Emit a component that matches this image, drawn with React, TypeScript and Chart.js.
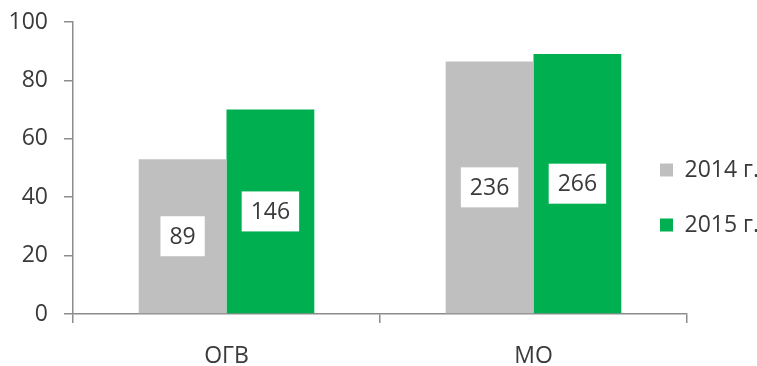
import React, { useEffect, useRef } from "react";
import { Chart, registerables } from "chart.js";

Chart.register(...registerables);

const categories = ["ОГВ", "МО"];
const seriesNames = ["2014 г.", "2015 г."];
const values2014 = [53, 86.5];
const values2015 = [70, 89];
const labels2014 = ["89", "236"];
const labels2015 = ["146", "266"];
const yTicks = [0, 20, 40, 60, 80, 100];

const FONT = "'Open Sans', 'Noto Sans', sans-serif";
const FS = 23;
const TEXT = "#3a3a3a";
const AXIS = "#8c8c8c";

const barLabelPlugin = {
  id: "barLabels",
  afterDatasetsDraw(chart: any) {
    const ctx = chart.ctx;
    const all = [labels2014, labels2015];
    ctx.save();
    ctx.font = `${FS}px ${FONT}`;
    ctx.textAlign = "center";
    ctx.textBaseline = "middle";
    chart.data.datasets.forEach((_: any, di: number) => {
      const meta = chart.getDatasetMeta(di);
      meta.data.forEach((el: any, i: number) => {
        const { x, y, base } = el.getProps(["x", "y", "base"], true);
        const cy = (y + base) / 2;
        const txt = all[di][i];
        const w = ctx.measureText(txt).width + 18;
        const h = 40;
        ctx.fillStyle = "#ffffff";
        ctx.fillRect(x - w / 2, cy - h / 2, w, h);
        ctx.fillStyle = TEXT;
        ctx.fillText(txt, x, cy + 1);
      });
    });
    ctx.restore();
  },
};

const LEG_PAD = 32;
const legendPlacer = {
  id: "legendPlacer",
  afterLayout(chart: any) {
    const lg = chart.legend;
    if (!lg) return;
    const w = lg.width;
    lg.left = 660 - LEG_PAD;
    lg.right = lg.left + w;
    lg.top = 170 - FS / 2 - LEG_PAD;
    lg.bottom = lg.top + 300;
    lg.height = 300;
  },
};

export default function App() {
  const ref = useRef<HTMLCanvasElement | null>(null);

  useEffect(() => {
    if (!ref.current) return;
    const chart = new Chart(ref.current, {
      type: "bar",
      data: {
        labels: categories,
        datasets: [
          {
            label: seriesNames[0],
            data: values2014,
            backgroundColor: "#bfbfbf",
            borderWidth: 0,
            categoryPercentage: 0.572,
            barPercentage: 1,
          },
          {
            label: seriesNames[1],
            data: values2015,
            backgroundColor: "#00b050",
            borderWidth: 0,
            categoryPercentage: 0.572,
            barPercentage: 1,
          },
        ],
      },
      options: {
        responsive: false,
        animation: false,
        layout: { padding: { left: 9, right: 70, top: 22, bottom: 0 } },
        plugins: {
          tooltip: { enabled: false },
          legend: {
            display: true,
            position: "chartArea" as any,
            align: "start",
            labels: {
              boxWidth: 13,
              boxHeight: 13,
              padding: LEG_PAD,
              color: TEXT,
              textAlign: "left",
              font: { family: FONT, size: FS },
            },
          },
        },
        scales: {
          x: {
            offset: true,
            afterFit: (scale: any) => {
              scale.height = 52;
            },
            grid: {
              offset: true,
              drawOnChartArea: false,
              drawTicks: true,
              tickLength: 9,
              color: AXIS,
              lineWidth: 1.5,
            },
            border: { display: true, color: AXIS, width: 1.5 },
            ticks: {
              color: TEXT,
              padding: 21,
              font: { family: FONT, size: FS, lineHeight: 1.1 },
            },
          },
          y: {
            min: 0,
            max: 100,
            afterBuildTicks: (axis: any) => {
              axis.ticks = yTicks.map((v) => ({ value: v }));
            },
            afterFit: (scale: any) => {
              scale.width = 64;
              scale.paddingTop = 0;
              scale.paddingBottom = 0;
            },
            grid: {
              drawOnChartArea: false,
              drawTicks: true,
              tickLength: 9,
              color: AXIS,
              lineWidth: 1.5,
            },
            border: { display: true, color: AXIS, width: 1.5 },
            ticks: {
              color: TEXT,
              padding: 16,
              font: { family: FONT, size: FS },
            },
          },
        },
      },
      plugins: [barLabelPlugin, legendPlacer],
    });
    return () => chart.destroy();
  }, []);

  return (
    <div style={{ position: "absolute", left: 0, top: 0, width: 757, height: 366, background: "#fff" }}>
      <canvas ref={ref} width={757} height={366} style={{ display: "block" }} />
    </div>
  );
}
